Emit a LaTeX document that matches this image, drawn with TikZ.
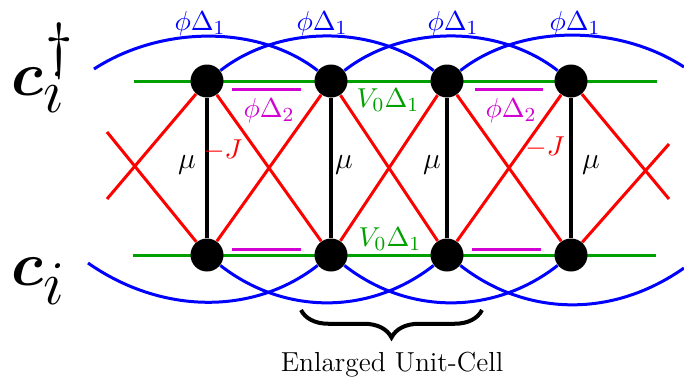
\documentclass[tikz,border=0pt]{standalone}
\usepackage{amsmath,bm}
\usetikzlibrary{decorations.pathreplacing,backgrounds}
\definecolor{mygreen}{RGB}{0,160,0}
\definecolor{mymag}{RGB}{210,0,210}
\begin{document}
\begin{tikzpicture}[x=0.4pt,y=-0.4pt,
  site/.style={circle,fill=black,minimum size=13.2pt,inner sep=0pt},
  hop/.style={red,line width=1.2pt},
  pairone/.style={blue,line width=1.2pt},
  pot/.style={mygreen,line width=1.2pt},
  pairtwo/.style={mymag,line width=1.2pt},
  onsite/.style={black,line width=1.6pt},
  lbl/.style={inner sep=0pt,anchor=base,font=\fontsize{11}{13}\selectfont},
  mulbl/.style={inner sep=0pt,anchor=base,font=\fontsize{13}{15}\selectfont},
  big/.style={inner sep=0pt,anchor=base west,font=\fontsize{33}{40}\selectfont},
]
\useasboundingbox (0,0) rectangle (684,381);
% sites
\foreach \n/\x in {1/207,2/331,3/447,4/571}{
  \node[site] (t\n) at (\x,81) {};
  \node[site] (b\n) at (\x,255) {};
}
% free ends
\coordinate (gtl) at (134,81);  \coordinate (gtr) at (657,81);
\coordinate (gbl) at (133,255); \coordinate (gbr) at (656,255);
\coordinate (mta) at (232,89);  \coordinate (mtb) at (301,89);
\coordinate (mtc) at (475,89);  \coordinate (mtd) at (543,89);
\coordinate (mba) at (232,249); \coordinate (mbb) at (301,249);
\coordinate (mbc) at (472,249); \coordinate (mbd) at (541,249);
\coordinate (sl1) at (107,132); \coordinate (sl2) at (107,199);
\coordinate (sr1) at (669,144); \coordinate (sr2) at (669,199);
\coordinate (atl) at (94,69);   \coordinate (atr) at (684,67);
\coordinate (abl) at (88,263);  \coordinate (abr) at (684,268);
\coordinate (brl) at (301,310); \coordinate (brr) at (482,310);

\begin{pgfonlayer}{background}
  % nearest-neighbour potential
  \draw[pot] (gtl) -- (gtr);
  \draw[pot] (gbl) -- (gbr);
  % hopping (crossed)
  \draw[hop] (t1) -- (b2); \draw[hop] (b1) -- (t2);
  \draw[hop] (t2) -- (b3); \draw[hop] (b2) -- (t3);
  \draw[hop] (t3) -- (b4); \draw[hop] (b3) -- (t4);
  \draw[hop] (t1) -- (sl2); \draw[hop] (b1) -- (sl1);
  \draw[hop] (t4) -- (sr2); \draw[hop] (b4) -- (sr1);
  % on-site
  \foreach \n in {1,2,3,4}{ \draw[onsite] (t\n) -- (b\n); }
  % long-range pairing arcs, top
  \draw[pairone] (atl) .. controls +(67.1,-43.6) and +(-72.5,-56.6) .. (t2);
  \draw[pairone] (t1) .. controls +(72.5,-56.6) and +(-72.5,-56.6) .. (t3);
  \draw[pairone] (t2) .. controls +(72.5,-56.6) and +(-72.5,-56.6) .. (t4);
  \draw[pairone] (t3) .. controls +(72.5,-56.6) and +(-67.1,-43.6) .. (atr);
  % bottom
  \draw[pairone] (abl) .. controls +(73.7,51.6) and +(-77.2,60.3) .. (b2);
  \draw[pairone] (b1) .. controls +(77.2,60.3) and +(-77.2,60.3) .. (b3);
  \draw[pairone] (b2) .. controls +(77.2,60.3) and +(-77.2,60.3) .. (b4);
  \draw[pairone] (b3) .. controls +(77.2,60.3) and +(-73.7,51.6) .. (abr);
\end{pgfonlayer}

% second pairing bars
\draw[pairtwo] (mta) -- (mtb);
\draw[pairtwo] (mtc) -- (mtd);
\draw[pairtwo] (mba) -- (mbb);
\draw[pairtwo] (mbc) -- (mbd);

% labels
\foreach \x/\nm in {200/a,322/b,453/c,575/d}{
  \node[lbl,blue] (dphi\nm) at (\x,30) {$\phi\Delta_1$};
}
\node[lbl,mymag] (dtwoa) at (269,117) {$\phi\Delta_2$};
\node[lbl,mymag] (dtwob) at (511,117) {$\phi\Delta_2$};
\node[lbl,mygreen] (vta) at (388,107) {$V_0\Delta_1$};
\node[lbl,mygreen] (vba) at (390,246) {$V_0\Delta_1$};
\node[lbl,red] (ja) at (223,158) {$-J$};
\node[lbl,red] (jb) at (545,155) {$-J$};
\foreach \x/\nm in {187/a,344/b,432/c,591/d}{
  \node[mulbl] (mu\nm) at (\x,168) {$\mu$};
}
\node[big] (cdag) at (11,95) {$\bm{c}\rlap{\raisebox{-6.8pt}{$\scriptstyle i$}}\kern0.8pt\raisebox{11.6pt}{$\scriptstyle\dagger$}$};
\node[big] (cann) at (11,285) {$\bm{c}_i$};

% enlarged unit cell
\draw[decorate,decoration={brace,mirror,amplitude=11pt},line width=1.6pt] (brl) -- (brr);
\node[lbl] (ucell) at (392,371) {Enlarged Unit-Cell};
\end{tikzpicture}
\end{document}
